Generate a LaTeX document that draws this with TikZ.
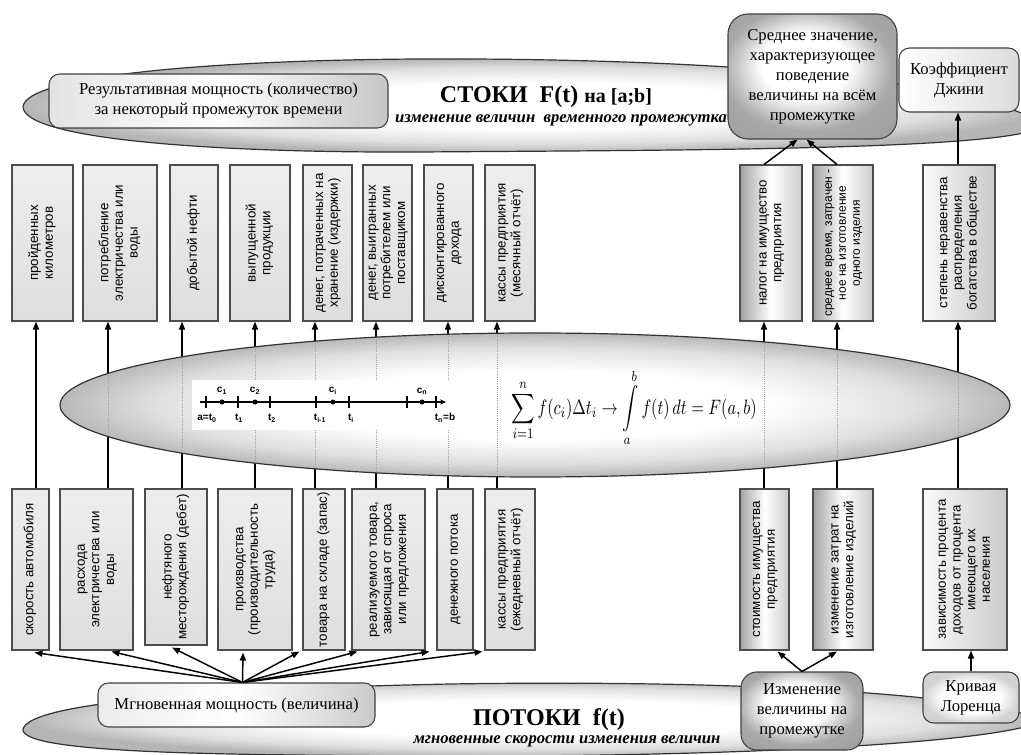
\documentclass[tikz,border=0pt]{standalone}
\usepackage{fontspec}
\setmainfont{Liberation Serif}
\setsansfont{Liberation Sans}
\usepackage{graphicx}
\usetikzlibrary{arrows.meta,calc}
\pgfdeclareradialshading{ellsh}{\pgfpoint{0bp}{0bp}}{color(0bp)=(white); color(12bp)=(white); color(20bp)=(gray!25); color(25bp)=(gray!58); color(50bp)=(gray!58)}
\pgfdeclareradialshading{midsh}{\pgfpoint{0bp}{0bp}}{color(0bp)=(white); color(12bp)=(white); color(20bp)=(gray!25); color(25bp)=(gray!55); color(50bp)=(gray!55)}
\pgfdeclareradialshading{darksh}{\pgfpoint{-3bp}{6bp}}{color(0bp)=(white); color(13bp)=(white); color(25bp)=(gray!68); color(50bp)=(gray!85)}
\pgfdeclareradialshading{lightsh}{\pgfpoint{0bp}{0bp}}{color(0bp)=(white); color(15bp)=(white); color(25bp)=(gray!35); color(50bp)=(gray!40)}
\newcommand{\vbx}[7]{\node[#2, minimum width={(#5-#3)*0.75pt}, minimum height={(#6-#4)*0.75pt}] (#1) at ({(#3+#5)/2},{(#4+#6)/2}) {\rotatebox{90}{\begin{tabular}{@{}c@{}}#7\end{tabular}}};}
\newcommand{\rbx}[7]{\node[#2, minimum width={(#5-#3)*0.75pt}, minimum height={(#6-#4)*0.75pt}] (#1) at ({(#3+#5)/2},{(#4+#6)/2}) {#7};}
\begin{document}
\begin{tikzpicture}[x=0.75pt,y=-0.75pt,
  arr/.style={line width=1.1pt, -{Triangle[length=6pt,width=4.5pt]}},
  vbox/.style={draw=black!70, line width=0.8pt, inner sep=0pt, font=\sffamily\fontsize{10}{11}\selectfont},
  smallfont/.style={font=\sffamily\fontsize{9}{10.5}\selectfont},
  greybox/.style={vbox, top color=gray!14, bottom color=gray!26},
  darkbox/.style={vbox, left color=gray!72, right color=gray!40, middle color=white},
  lightbox/.style={vbox, left color=gray!4, right color=gray!42},
  rbox/.style={draw=black!75, line width=0.8pt, rounded corners=8pt, align=center, inner sep=0pt, font=\fontsize{12.5}{15}\selectfont},
  ell/.style={draw=black!80, line width=0.9pt},
  dotl/.style={gray!75, densely dotted, line width=0.6pt},
  tlab/.style={font=\sffamily\bfseries\fontsize{7.5}{9}\selectfont, inner sep=0pt}
]
\useasboundingbox (0,0) rectangle (1021,755);

% ---------- ellipses ----------
\path[ell, shading=ellsh]
  (23,107) .. controls (25,75) and (220,60) .. (420,59)
  .. controls (640,58) and (960,70) .. (1045,125)
  .. controls (1020,150) and (700,150) .. (420,152)
  .. controls (220,153) and (25,140) .. (23,107) -- cycle;
\path[ell, shading=ellsh]
  (23,730) .. controls (25,700) and (250,688) .. (450,684)
  .. controls (700,680) and (960,690) .. (1045,720)
  .. controls (1000,745) and (700,757) .. (450,756)
  .. controls (250,755) and (25,755) .. (23,730) -- cycle;

% ---------- vertical line positions ----------
\coordinate (v1) at (36,405);
\coordinate (v2) at (108,405);
\coordinate (v3) at (182,405);
\coordinate (v4) at (255,405);
\coordinate (v5) at (315,405);
\coordinate (v6) at (376,405);
\coordinate (v7) at (448,405);
\coordinate (v8) at (497,405);
\coordinate (v9) at (764,405);
\coordinate (v10) at (837,405);
\coordinate (v11) at (958,405);

% ---------- top boxes ----------
\vbx{tb1}{greybox}{12}{165}{73}{321}{пройденных\\километров}
\vbx{tb2}{greybox}{83}{165}{157}{321}{потребление\\электричества или\\воды}
\vbx{tb3}{greybox}{170}{165}{218}{321}{добытой нефти}
\vbx{tb4}{greybox}{230}{165}{290}{321}{выпущенной\\продукции}
\vbx{tb5}{greybox}{303}{165}{352}{321}{денег, потраченных на\\хранение (издержки)}
\vbx{tb6}{greybox}{363}{165}{412}{321}{денег, выигранных\\потребителем или\\поставщиком}
\vbx{tb7}{greybox}{424}{165}{473}{321}{дисконтированного\\дохода}
\vbx{tb8}{greybox}{485}{165}{535}{321}{кассы предприятия\\(месячный отчёт)}
\vbx{tb9}{darkbox}{740}{165}{802}{321}{налог на имущество\\предприятия}
\vbx{tb10}{darkbox, smallfont}{813}{165}{873}{321}{среднее время, затрачен -\\ное на изготовление\\одного изделия}
\vbx{tb11}{lightbox}{923}{165}{995}{321}{степень неравенства\\распределения\\богатства в обществе}

% ---------- bottom boxes ----------
\vbx{bb1}{greybox}{12}{489}{49}{650}{скорость автомобиля}
\vbx{bb2}{greybox}{60}{489}{133}{650}{расхода\\электричества или\\воды}
\vbx{bb3}{greybox}{145}{489}{207}{645}{нефтяного\\месторождения (дебет)}
\vbx{bb4}{greybox}{218}{489}{292}{650}{производства\\(производительность\\труда)}
\vbx{bb5}{greybox}{303}{489}{345}{650}{товара на складе (запас)}
\vbx{bb6}{greybox}{352}{489}{425}{650}{реализуемого товара,\\зависящая от спроса\\или предложения}
\vbx{bb7}{greybox}{437}{489}{473}{650}{денежного потока}
\vbx{bb8}{greybox}{485}{489}{535}{650}{кассы предприятия\\(ежедневный отчёт)}
\vbx{bb9}{darkbox}{740}{489}{789}{650}{стоимость имущества\\предприятия}
\vbx{bb10}{darkbox}{813}{489}{873}{650}{изменение затрат на\\изготовление изделий}
\vbx{bb11}{lightbox}{923}{489}{1007}{650}{зависимость процента\\доходов от процента\\имеющего их\\населения}

% ---------- vertical connectors (under middle ellipse) ----------
\foreach \i in {1,...,11} {
  \draw[arr] (bb\i.north -| v\i) -- (tb\i.south -| v\i);
}

% ---------- middle ellipse ----------
\path[ell, shading=midsh] (535,405) ellipse [x radius=356.25pt, y radius=54pt];
\begin{scope}
  \clip (535,405) ellipse [x radius=355.5pt, y radius=53.3pt];
  \foreach \i in {2,...,11} {
    \draw[dotl] (tb\i.south -| v\i) -- (bb\i.north -| v\i);
  }
\end{scope}

% ---------- time line ----------
\node[fill=white, minimum width={(463-192)*0.75pt}, minimum height={(430-380)*0.75pt}, inner sep=0pt] (tl) at (327.5,405) {};
\draw[line width=0.9pt, -{Stealth[length=4.5pt,width=4pt]}] (200,402) -- (446,402);
\foreach \t in {206,238,270,316,349,407,436} {
  \draw[line width=1pt] (\t,396) -- (\t,408);
}
\foreach \c in {222,255,333,422} {
  \fill (\c,402) circle [radius=1.9pt];
}
\node[tlab] (c1) at (222,391) {c\textsubscript{1}};
\node[tlab] (c2) at (255,391) {c\textsubscript{2}};
\node[tlab] (ci) at (333,391) {c\textsubscript{i}};
\node[tlab] (cn) at (422,391) {c\textsubscript{n}};
\node[tlab] (t0) at (207,418) {a=t\textsubscript{0}};
\node[tlab] (t1) at (239,418) {t\textsubscript{1}};
\node[tlab] (t2) at (272,418) {t\textsubscript{2}};
\node[tlab] (tim) at (320,418) {t\textsubscript{i-1}};
\node[tlab] (ti) at (351,418) {t\textsubscript{i}};
\node[tlab] (tn) at (445,418) {t\textsubscript{n}=b};

% ---------- formula ----------
\node[inner sep=0pt] (fm) at (634,408)
  {\resizebox*{184pt}{58pt}{$\displaystyle\sum_{i=1}^{n} f(c_i)\Delta t_i \to \int\limits_a^b f(t)\,dt = F(a,b)$}};

% ---------- top rounded boxes and titles ----------
\rbx{rs}{rbox, left color=gray!22, right color=gray!45, middle color=white}{49}{74}{388}{128}{Результативная мощность (количество)\\за некоторый промежуток времени}
\rbx{sr}{rbox, rounded corners=15pt, shading=darksh}{728}{14}{897}{139}{Среднее значение,\\характеризующее\\поведение\\величины на всём\\промежутке}
\rbx{dj}{rbox, left color=white, right color=gray!28}{899}{48}{1019}{112}{Коэффициент\\Джини}
\node[font=\bfseries\fontsize{18}{20}\selectfont, inner sep=0pt] (tt) at (546,97) {СТОКИ\ \ F(t) {\fontsize{15}{17}\selectfont на [a;b]}};
\node[font=\bfseries\itshape\fontsize{12.5}{14}\selectfont, inner sep=0pt] (ts) at (561,120) {изменение величин\ \ временного промежутка};

% ---------- bottom rounded boxes and titles ----------
\rbx{mg}{rbox, left color=gray!15, right color=gray!42, middle color=white}{98}{683}{375}{727}{Мгновенная мощность (величина)}
\rbx{iz}{rbox, rounded corners=12pt, shading=darksh}{741}{672}{863}{750}{Изменение\\величины на\\промежутке}
\rbx{kr}{rbox, shading=lightsh}{923}{672}{1019}{723}{Кривая\\Лоренца}
\node[font=\bfseries\fontsize{18}{20}\selectfont, inner sep=0pt] (bt) at (549,720) {ПОТОКИ\ \ f(t)};
\node[font=\bfseries\itshape\fontsize{12.5}{14}\selectfont, inner sep=0pt] (bs) at (567,741) {мгновенные скорости изменения величин};

% ---------- connectors to top rounded boxes ----------
\draw[arr] (tb9.north -| v9) -- ($(sr.south)+(-15,0)$);
\draw[arr] (tb10.north -| v10) -- ($(sr.south)+(-6,0)$);
\draw[arr] (tb11.north -| v11) -- (dj.south -| v11);

% ---------- fan from Мгновенная мощность ----------
\coordinate (fan) at ($(mg.north)+(6,0)$);
\draw[arr] (fan) -- ($(bb1.south)+(4,2)$);
\draw[arr] (fan) -- ($(bb2.south)+(15,1)$);
\draw[arr] (fan) -- ($(bb3.south)+(-4,2)$);
\draw[arr] (fan) -- ($(bb4.south)+(-12,2)$);
\draw[arr] (fan) -- ($(bb5.south west)+(-3,1)$);
\draw[arr] (fan) -- ($(bb6.south west)+(6,1)$);
\draw[arr] (fan) -- ($(bb7.south west)+(-7,1)$);
\draw[arr] (fan) -- ($(bb8.south west)+(-2,1)$);

% ---------- connectors from bottom right boxes ----------
\draw[arr] (iz.north) -- ($(bb9.south)+(13,1)$);
\draw[arr] (iz.north) -- ($(bb10.south)+(-6,1)$);
\draw[arr] (kr.north) -- (kr.north |- bb11.south);
\end{tikzpicture}
\end{document}
